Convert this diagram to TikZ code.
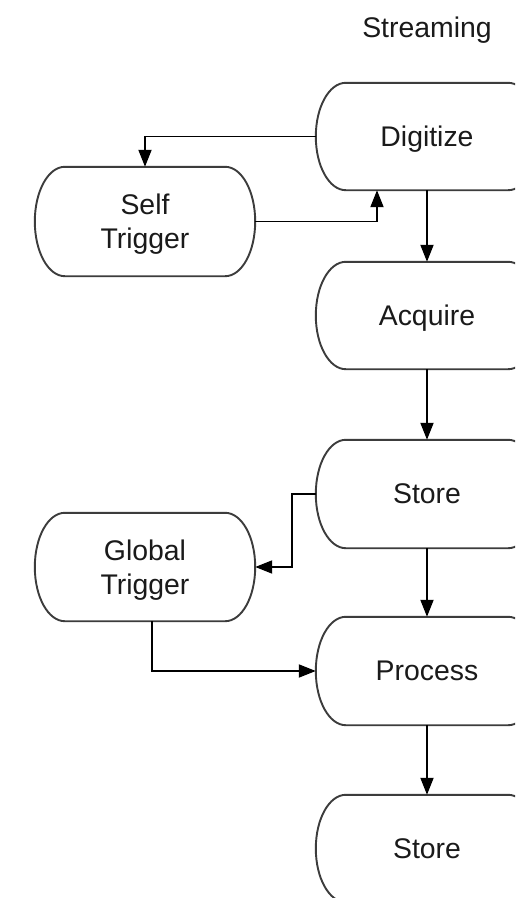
\documentclass[tikz,border=0pt]{standalone}
\usepackage{fontspec}
\setmainfont{Liberation Sans}
\usetikzlibrary{arrows.meta,calc}
\definecolor{boxgray}{HTML}{3C3C3C}
\definecolor{txt}{HTML}{1A1A1A}
\newcommand\stadiumoutline[1]{%
  \draw[boxline] let \p1=(#1.north west), \p2=(#1.south east), \n1={0.5*(\y1-\y2)} in
    (\x1+30pt,\y1) -- (\x2-30pt,\y1)
    arc[start angle=90, end angle=-90, x radius=30pt, y radius=\n1]
    -- (\x1+30pt,\y2)
    arc[start angle=270, end angle=90, x radius=30pt, y radius=\n1] -- cycle;}
\begin{document}
\begin{tikzpicture}[x=1pt,y=-1pt,
  boxline/.style={draw=boxgray, line width=1.9pt},
  stadium/.style={rectangle, draw=none, inner sep=0pt, minimum width=222pt, minimum height=107pt,
    align=center, text=txt, text depth=0pt, font=\fontsize{28.4}{34}\selectfont},
  arr/.style={draw=black, line width=1.9pt, -{Triangle[length=17pt,width=13pt]}},
  ttl/.style={text=txt, text depth=0pt, font=\fontsize{28.4}{34}\selectfont, inner sep=0pt}]
\useasboundingbox (0,0) rectangle (515,898);
\clip (0,0) rectangle (515,898);
\fill[white] (0,0) rectangle (515,898);
\node[ttl] (title) at (427,27) {Streaming};
\node[stadium] (dig) at (427,136.5) {Digitize};
\node[stadium, minimum width=220pt, minimum height=109pt] (st) at (145,221.5) {Self\\Trigger};
\node[stadium] (acq) at (427,315.5) {Acquire};
\node[stadium, minimum height=108pt] (sto1) at (427,494) {Store};
\node[stadium, minimum width=220pt, minimum height=108pt] (gt) at (145,567) {Global\\Trigger};
\node[stadium, minimum height=108pt] (proc) at (427,671) {Process};
\node[stadium] (sto2) at (427,848.5) {Store};
\stadiumoutline{dig}
\stadiumoutline{st}
\stadiumoutline{acq}
\stadiumoutline{sto1}
\stadiumoutline{gt}
\stadiumoutline{proc}
\stadiumoutline{sto2}
\draw[arr] (dig.west) -| (st.north);
\draw[arr] (st.east) -| ([xshift=-50pt]dig.south);
\draw[arr] (dig.south) -- (acq.north);
\draw[arr] (acq.south) -- (sto1.north);
\draw[arr] (sto1.west) -- ++(-24,0) |- (gt.east);
\draw[arr] (sto1.south) -- (proc.north);
\draw[arr] ([xshift=7pt]gt.south) |- (proc.west);
\draw[arr] (proc.south) -- (sto2.north);
\end{tikzpicture}
\end{document}
